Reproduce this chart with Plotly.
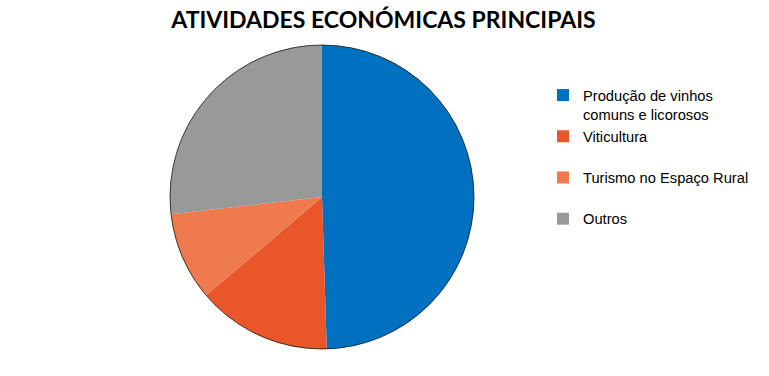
import plotly.graph_objects as go

labels = ["Produção de vinhos<br>comuns e licorosos", "Viticultura<br> ", "Turismo no Espaço Rural<br> ", "Outros"]
values = [49.5, 14.3, 9.4, 26.8]
colors = ["#0070C0", "#E8562A", "#EF7A4E", "#999999"]

W, H = 769, 376
cx, cy, r = 322, 197, 152

fig = go.Figure(go.Pie(
    labels=labels,
    values=values,
    sort=False,
    direction="clockwise",
    rotation=0,
    textinfo="none",
    hoverinfo="label+percent",
    marker=dict(colors=colors, line=dict(width=0)),
    domain=dict(x=[(cx - r) / W, (cx + r) / W], y=[1 - (cy + r) / H, 1 - (cy - r) / H]),
))

fig.add_shape(type="circle", xref="paper", yref="paper",
              x0=(cx - r) / W, x1=(cx + r) / W, y0=1 - (cy + r) / H, y1=1 - (cy - r) / H,
              line=dict(color="rgba(0,0,0,0.7)", width=1), layer="above")

fig.update_layout(
    width=W, height=H,
    margin=dict(l=0, r=0, t=0, b=0),
    paper_bgcolor="white",
    plot_bgcolor="white",
    title=dict(text="<b>ATIVIDADES ECONÓMICAS PRINCIPAIS</b>", x=383.5 / W, xanchor="center",
               y=1 - 20 / H, yanchor="middle",
               font=dict(family="Lato", size=23, color="black")),
    showlegend=True,
    legend=dict(x=543 / W, y=1 - 79 / H, xanchor="left", yanchor="top",
                valign="top", font=dict(family="Liberation Sans", size=14.7, color="#000000"),
                itemwidth=30, tracegroupgap=0),
)

fig.write_html("out.html", config={"displayModeBar": False},
               post_script="document.body.style.margin='0';document.body.style.overflow='hidden';")
